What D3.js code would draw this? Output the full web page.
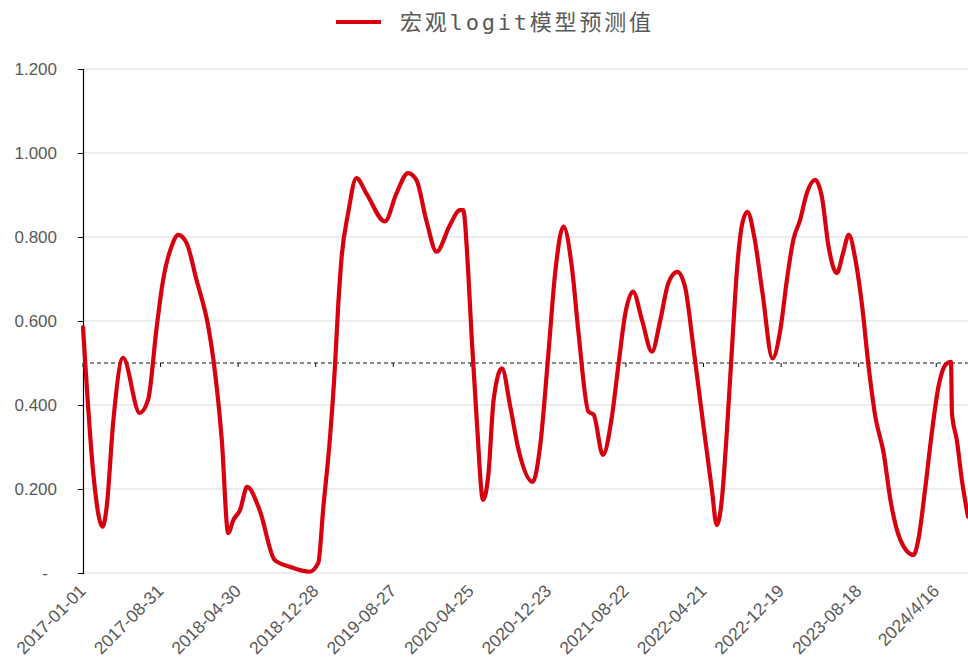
<!DOCTYPE html>
<html>
<head>
<meta charset="utf-8">
<script src="https://cdn.jsdelivr.net/npm/d3@7/dist/d3.min.js"></script>
<style>
  body { margin: 0; background: #fff; }
  svg { display: block; }
</style>
</head>
<body>
<svg id="chart"></svg>
<script>
// 宏观logit模型预测值 — 读图估计
const seriesName = "宏观logit模型预测值";

const dates = [
  "2017-01-01","2017-01-10","2017-02-02","2017-03-03","2017-03-16","2017-04-05","2017-05-06",
  "2017-06-27","2017-07-23","2017-08-19","2017-09-08","2017-10-04","2017-10-25","2017-11-20",
  "2017-12-21","2018-01-27","2018-02-12","2018-03-10","2018-03-30","2018-04-15","2018-05-06",
  "2018-05-28","2018-07-06","2018-08-22","2018-10-08","2018-12-09","2019-01-05","2019-01-21",
  "2019-02-10","2019-02-26","2019-03-08","2019-03-19","2019-04-08","2019-05-04","2019-06-04",
  "2019-08-01","2019-09-06","2019-10-12","2019-11-07","2019-12-08","2020-01-09","2020-02-20",
  "2020-03-22","2020-04-01","2020-04-17","2020-04-28","2020-05-14","2020-06-02","2020-06-19",
  "2020-07-05","2020-07-31","2020-08-26","2020-09-21","2020-11-04","2020-11-27","2020-12-23",
  "2021-01-13","2021-02-08","2021-03-06","2021-03-27","2021-04-27","2021-05-13","2021-06-11",
  "2021-07-09","2021-07-30","2021-08-20","2021-09-13","2021-10-11","2021-11-11","2021-12-07",
  "2022-01-01","2022-01-29","2022-02-22","2022-03-20","2022-04-21","2022-05-17","2022-06-01",
  "2022-06-17","2022-07-03","2022-07-19","2022-08-04","2022-08-20","2022-09-05","2022-09-26",
  "2022-10-22","2022-11-22","2022-12-18","2023-01-06","2023-01-26","2023-02-16","2023-03-09",
  "2023-04-04","2023-04-25","2023-05-16","2023-06-11","2023-06-30","2023-07-18","2023-08-08",
  "2023-08-29","2023-09-18","2023-10-09","2023-11-04","2023-11-25","2023-12-26","2024-02-05",
  "2024-02-20","2024-03-12","2024-04-02","2024-04-23","2024-05-14","2024-06-01","2024-06-04",
  "2024-06-19","2024-07-05","2024-07-24"
];

const values = [
  0.585,0.476,0.238,0.110,0.158,0.357,0.512,
  0.381,0.412,0.586,0.698,0.777,0.805,0.786,
  0.698,0.586,0.507,0.317,0.095,0.126,0.150,
  0.205,0.150,0.031,0.015,0.003,0.024,0.158,
  0.317,0.491,0.634,0.753,0.856,0.940,0.904,
  0.837,0.904,0.952,0.936,0.840,0.765,0.829,
  0.864,0.864,0.714,0.555,0.356,0.174,0.237,
  0.412,0.487,0.396,0.293,0.217,0.301,0.523,
  0.714,0.825,0.729,0.571,0.384,0.377,0.281,
  0.372,0.499,0.618,0.670,0.602,0.527,0.602,
  0.690,0.717,0.682,0.539,0.348,0.198,0.114,
  0.174,0.340,0.539,0.729,0.833,0.860,0.801,
  0.666,0.511,0.586,0.698,0.793,0.840,0.904,
  0.936,0.896,0.777,0.714,0.761,0.805,0.745,
  0.634,0.491,0.372,0.285,0.174,0.079,0.043,
  0.079,0.198,0.333,0.444,0.495,0.503,0.380,
  0.317,0.221,0.134
];

const tickDates = [
  "2017-01-01","2017-08-31","2018-04-30","2018-12-28","2019-08-27","2020-04-25",
  "2020-12-23","2021-08-22","2022-04-21","2022-12-19","2023-08-18","2024-04-16"
];
const tickLabels = [
  "2017-01-01","2017-08-31","2018-04-30","2018-12-28","2019-08-27","2020-04-25",
  "2020-12-23","2021-08-22","2022-04-21","2022-12-19","2023-08-18","2024/4/16"
];
const yTicks = [0, 0.2, 0.4, 0.6, 0.8, 1.0, 1.2];
const threshold = 0.5;

const width = 968, height = 670;
const plotLeft = 83, plotRight = 968, plotTop = 69, plotBottom = 573;

const parse = d3.timeParse("%Y-%m-%d");
const data = dates.map((d, i) => ({ date: parse(d), value: values[i] }));

const svg = d3.select("#chart").attr("width", width).attr("height", height);

const x = d3.scaleTime()
    .domain([parse("2017-01-01"), parse("2024-07-24")])
    .range([plotLeft, plotRight]);
const y = d3.scaleLinear().domain([0, 1.2]).range([plotBottom, plotTop]);

// 网格线
svg.append("g")
    .selectAll("line")
    .data(yTicks)
    .enter()
    .append("line")
    .attr("x1", plotLeft)
    .attr("x2", plotRight)
    .attr("y1", d => y(d))
    .attr("y2", d => y(d))
    .attr("stroke", "#d9d9d9")
    .attr("stroke-width", 1);

// 纵轴
const yAxis = svg.append("g")
    .attr("transform", `translate(${plotLeft},0)`)
    .call(d3.axisLeft(y).tickValues(yTicks).tickSize(5).tickPadding(21)
        .tickFormat(d => d === 0 ? "-" : d3.format(".3f")(d)));
yAxis.select(".domain").attr("stroke", "#000").attr("stroke-width", 1.2);
yAxis.selectAll(".tick line").attr("stroke", "#000");
yAxis.selectAll("text")
    .attr("fill", "#595959")
    .attr("font-family", "Liberation Sans, Arial, sans-serif")
    .attr("font-size", 17)
    .attr("dy", "0.35em")
    .attr("dx", d => d === 0 ? -9 : 0);

// 0.5 参考线 (带刻度)
svg.append("line")
    .attr("x1", plotLeft)
    .attr("x2", plotRight)
    .attr("y1", y(threshold))
    .attr("y2", y(threshold))
    .attr("stroke", "#111")
    .attr("stroke-width", 1)
    .attr("stroke-dasharray", "4,3");

const xTickDates = tickDates.map(parse);
svg.append("g")
    .selectAll("line")
    .data(xTickDates)
    .enter()
    .append("line")
    .attr("x1", d => x(d))
    .attr("x2", d => x(d))
    .attr("y1", y(threshold))
    .attr("y2", y(threshold) + 4)
    .attr("stroke", "#111")
    .attr("stroke-width", 1);

// 横轴标签
svg.append("g")
    .selectAll("text")
    .data(xTickDates)
    .enter()
    .append("text")
    .attr("transform", d => `translate(${x(d) + 4},${plotBottom + 19}) rotate(-45)`)
    .attr("text-anchor", "end")
    .attr("fill", "#595959")
    .attr("font-family", "Liberation Sans, Arial, sans-serif")
    .attr("font-size", 17.5)
    .text((d, i) => tickLabels[i]);

// 折线
const line = d3.line()
    .x(d => x(d.date))
    .y(d => y(d.value))
    .curve(d3.curveMonotoneX);

svg.append("path")
    .datum(data)
    .attr("fill", "none")
    .attr("stroke", "#d7000f")
    .attr("stroke-width", 4.2)
    .attr("stroke-linejoin", "round")
    .attr("stroke-linecap", "round")
    .attr("d", line);

// 图例
svg.append("line")
    .attr("x1", 336)
    .attr("x2", 381)
    .attr("y1", 22)
    .attr("y2", 22)
    .attr("stroke", "#d7000f")
    .attr("stroke-width", 4);
svg.append("text")
    .attr("x", 400)
    .attr("y", 30)
    .attr("fill", "#595959")
    .attr("font-family", "DejaVu Sans Mono, Noto Sans CJK SC, monospace")
    .attr("font-size", 22)
    .attr("textLength", 251)
    .attr("lengthAdjust", "spacing")
    .text(seriesName);
</script>
</body>
</html>
